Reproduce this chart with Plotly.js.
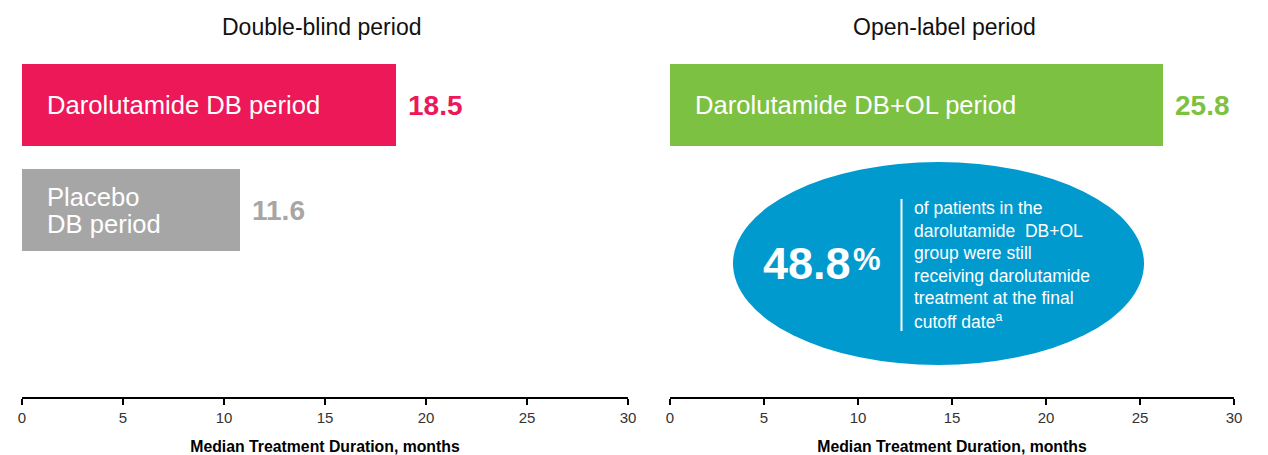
<!DOCTYPE html>
<html>
<head>
<meta charset="utf-8">
<script src="https://cdn.plot.ly/plotly-3.0.1.min.js"></script>
<style>html,body{margin:0;padding:0;background:#fff;}#chart{width:1268px;height:455px;}</style>
</head>
<body>
<div id="chart"></div>
<script>
// ---- data ----
var panelTitles = ['Double-blind period', 'Open-label period'];
var dbCategories = ['Darolutamide DB period', 'Placebo DB period'];
var dbBarLabels = ['Darolutamide DB period', 'Placebo<br>DB period'];
var dbBarLengths = [18.5, 10.8];          // bar lengths as drawn in the picture
var dbValueLabels = ['18.5', '11.6'];     // printed values
var olCategories = ['Darolutamide DB+OL period'];
var olBarLabels = ['Darolutamide DB+OL period'];
var olBarLengths = [26.2];
var olValueLabels = ['25.8'];
var xTickVals = [0, 5, 10, 15, 20, 25, 30];
var axisTitle = 'Median Treatment Duration, months';
var calloutPercent = '48.8';
var calloutLines = ['of patients in the', 'darolutamide  DB+OL', 'group were still',
  'receiving darolutamide', 'treatment at the final', 'cutoff date<sup>a</sup>'];

var dbColors = ['#ED1858', '#A6A6A6'];
var olColors = ['#7DC142'];
var FONT = 'Liberation Sans, Arial, Helvetica, sans-serif';
var W = 1268, H = 455;
function px(x) { return x / W; }
function py(y) { return 1 - y / H; }

var traces = [
  {type: 'bar', orientation: 'h', x: dbBarLengths, y: dbCategories, xaxis: 'x', yaxis: 'y',
   marker: {color: dbColors}, width: 0.78, hoverinfo: 'skip', showlegend: false},
  {type: 'bar', orientation: 'h', x: olBarLengths, y: olCategories, xaxis: 'x2', yaxis: 'y2',
   marker: {color: olColors}, width: 0.78, hoverinfo: 'skip', showlegend: false}
];

var annotations = [];
annotations.push({text: panelTitles[0], xref: 'paper', yref: 'paper', x: px(321), y: py(27),
  xanchor: 'center', yanchor: 'middle', showarrow: false, font: {family: FONT, size: 23, color: '#111'}});
annotations.push({text: panelTitles[1], xref: 'paper', yref: 'paper', x: px(944), y: py(27),
  xanchor: 'center', yanchor: 'middle', showarrow: false, font: {family: FONT, size: 23, color: '#111'}});

function addBarLabel(label, xref, yref, cat) {
  var lines = label.split('<br>');
  var step = 27;
  lines.forEach(function (ln, k) {
    annotations.push({text: ln, xref: xref, yref: yref, x: 0, y: cat, xanchor: 'left', yanchor: 'middle',
      xshift: 23, yshift: -((k - (lines.length - 1) / 2) * step), showarrow: false, align: 'left',
      font: {family: FONT, size: 25.6, color: '#fff'}});
  });
}

dbCategories.forEach(function (c, i) {
  addBarLabel(dbBarLabels[i], 'x', 'y', c);
  annotations.push({text: '<b>' + dbValueLabels[i] + '</b>', xref: 'x', yref: 'y', x: dbBarLengths[i], y: c,
    xanchor: 'left', yanchor: 'middle', xshift: 10, showarrow: false, font: {family: FONT, size: 28, color: dbColors[i]}});
});
olCategories.forEach(function (c, i) {
  addBarLabel(olBarLabels[i], 'x2', 'y2', c);
  annotations.push({text: '<b>' + olValueLabels[i] + '</b>', xref: 'x2', yref: 'y2', x: olBarLengths[i], y: c,
    xanchor: 'left', yanchor: 'middle', xshift: 10, showarrow: false, font: {family: FONT, size: 28, color: olColors[i]}});
});

annotations.push({text: '<b>' + calloutPercent + '</b>', xref: 'paper', yref: 'paper',
  x: px(761), y: py(263), xanchor: 'left', yanchor: 'middle', showarrow: false,
  font: {family: FONT, size: 45, color: '#fff'}});
annotations.push({text: '<b>%</b>', xref: 'paper', yref: 'paper',
  x: px(851), y: py(259), xanchor: 'left', yanchor: 'middle', showarrow: false,
  font: {family: FONT, size: 31, color: '#fff'}});
calloutLines.forEach(function (t, i) {
  annotations.push({text: t, xref: 'paper', yref: 'paper', x: px(912), y: py(208 + i * 22.5),
    xanchor: 'left', yanchor: 'middle', showarrow: false, align: 'left',
    font: {family: FONT, size: 17.5, color: '#fff'}});
});

var xAxisCommon = {
  range: [0, 30], tickvals: xTickVals, ticks: 'outside', ticklen: 6, tickwidth: 1.5, tickcolor: '#000',
  showline: true, linecolor: '#000', linewidth: 2, showgrid: false, zeroline: false, fixedrange: true,
  tickfont: {family: FONT, size: 15, color: '#333'},
  title: {text: '<b>' + axisTitle + '</b>', font: {family: FONT, size: 15.8, color: '#000'}, standoff: 18},
  automargin: false
};
var yDomain = [py(397), py(40)];

var layout = {
  width: W, height: H,
  margin: {l: 0, r: 0, t: 0, b: 0},
  paper_bgcolor: '#fff', plot_bgcolor: 'rgba(0,0,0,0)',
  xaxis: Object.assign({}, xAxisCommon, {domain: [px(22), px(628)], anchor: 'y'}),
  xaxis2: Object.assign({}, xAxisCommon, {domain: [px(670), px(1234)], anchor: 'y2'}),
  yaxis: {type: 'category', categoryarray: dbCategories, range: [2.78, -0.62], domain: yDomain,
    visible: false, fixedrange: true, anchor: 'x'},
  yaxis2: {type: 'category', categoryarray: olCategories, range: [2.78, -0.62], domain: yDomain,
    visible: false, fixedrange: true, anchor: 'x2'},
  shapes: [
    {type: 'circle', xref: 'paper', yref: 'paper', x0: px(733), x1: px(1144), y0: py(365), y1: py(162),
     fillcolor: '#009ACF', line: {width: 0}, layer: 'above'},
    {type: 'line', xref: 'paper', yref: 'paper', x0: px(901.5), x1: px(901.5), y0: py(199), y1: py(331),
     line: {color: '#fff', width: 2}, layer: 'above'}
  ],
  annotations: annotations,
  bargap: 0
};

Plotly.newPlot('chart', traces, layout, {displayModeBar: false, staticPlot: true});
</script>
</body>
</html>
